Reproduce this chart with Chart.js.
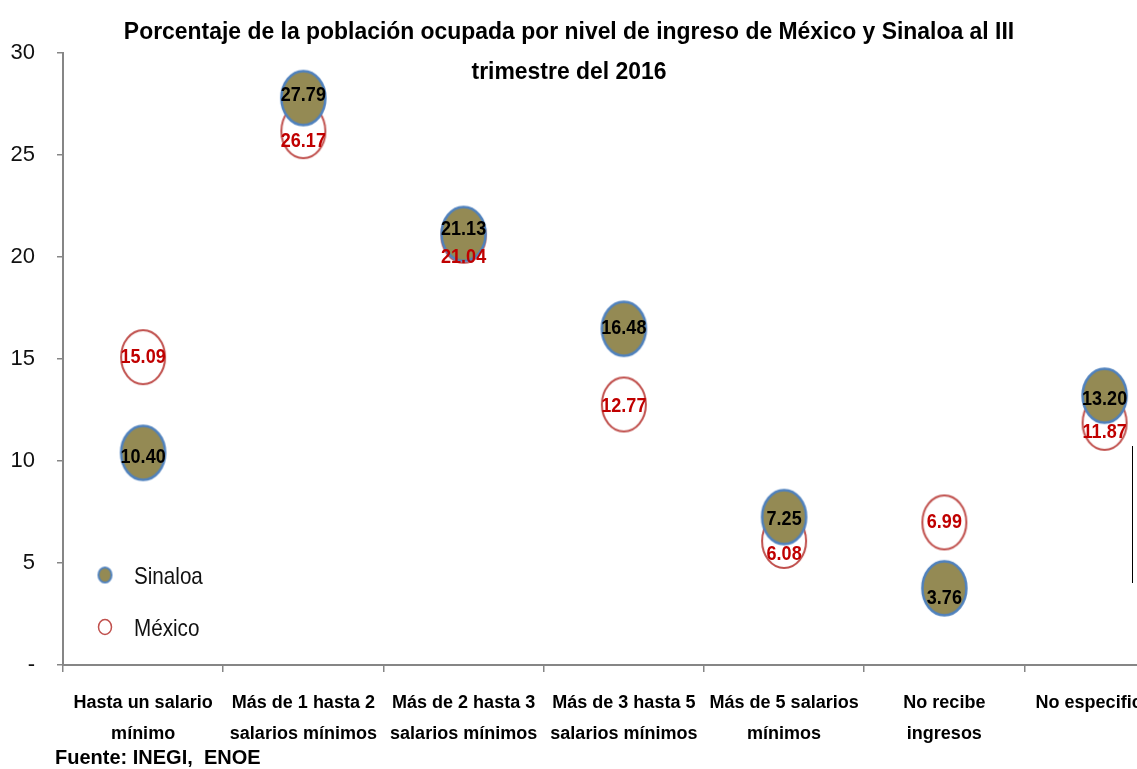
<!DOCTYPE html>
<html lang="es">
<head>
<meta charset="UTF-8">
<title>Población ocupada por nivel de ingreso</title>
<script src="https://cdn.jsdelivr.net/npm/chart.js"></script>
<style>
    body { margin: 0; background: #fff; }
    .wrap { position: relative; width: 1137px; height: 769px; overflow: hidden; }
    #grafica { position: absolute; left: 0; top: 0; }
    .raya { position: absolute; left: 1132px; top: 446px; width: 0; height: 137px; border-left: 1.5px solid #000; }
</style>
</head>
<body>
<div class="wrap">
    <canvas id="grafica" width="1190" height="769"></canvas>
    <div class="raya"></div>
</div>

<script>
// datos
const categorias = [
    ['Hasta un salario', 'mínimo'],
    ['Más de 1 hasta 2', 'salarios mínimos'],
    ['Más de 2 hasta 3', 'salarios mínimos'],
    ['Más de 3 hasta 5', 'salarios mínimos'],
    ['Más de 5 salarios', 'mínimos'],
    ['No recibe', 'ingresos'],
    ['No especificado']
];
const sinaloa = [10.40, 27.79, 21.13, 16.48, 7.25, 3.76, 13.20];
const mexico = [15.09, 26.17, 21.04, 12.77, 6.08, 6.99, 11.87];
const yTicks = [0, 5, 10, 15, 20, 25, 30];

const titulo = ['Porcentaje de la población ocupada por nivel de ingreso de México y Sinaloa al III', 'trimestre del 2016'];
const fuente = 'Fuente: INEGI,  ENOE';

// ajuste vertical de las etiquetas (px), como en el original
const despSinaloa = [5, -3, -4, 0, 2, 10, 4];
const despMexico = [0, 10, 22, 2, 14, 0, 10];

const SANS = '"Liberation Sans", Arial, sans-serif';

function elipse(w, h, relleno, borde, grosor) {
    const c = document.createElement('canvas');
    c.width = Math.ceil(w + grosor * 2 + 2);
    c.height = Math.ceil(h + grosor * 2 + 2);
    const g = c.getContext('2d');
    g.beginPath();
    g.ellipse(c.width / 2, c.height / 2, w / 2, h / 2, 0, 0, Math.PI * 2);
    if (relleno) { g.fillStyle = relleno; g.fill(); }
    g.lineWidth = grosor;
    g.strokeStyle = borde;
    g.stroke();
    return c;
}

// texto comprimido a lo ancho (la fuente original es angosta)
function textoAngosto(ctx, txt, x, y, escala) {
    ctx.save();
    ctx.translate(x, y);
    ctx.scale(escala, 1);
    ctx.fillText(txt, 0, 0);
    ctx.restore();
}

const puntoSinaloa = elipse(44, 54, '#948A54', '#4F81BD', 2.5);
const puntoMexico = elipse(44, 54, '#ffffff', '#C0504D', 2);
const leySinaloa = elipse(13, 15, '#948A54', '#4F81BD', 2);
const leyMexico = elipse(13, 15, '#ffffff', '#C0504D', 1.5);

const etiquetas = {
    id: 'etiquetas',
    afterDatasetsDraw(chart) {
        const ctx = chart.ctx;
        ctx.save();
        ctx.font = 'bold 20px ' + SANS;
        ctx.textAlign = 'center';
        ctx.textBaseline = 'middle';
        const conf = [[1, '#C00000', despMexico], [0, '#000000', despSinaloa]];
        conf.forEach(([i, color, desp]) => {
            const meta = chart.getDatasetMeta(i);
            ctx.fillStyle = color;
            meta.data.forEach((p, j) => {
                const v = chart.data.datasets[i].data[j];
                textoAngosto(ctx, v.toFixed(2), p.x, p.y + desp[j], 0.9);
            });
        });
        ctx.restore();
    }
};

const extras = {
    id: 'extras',
    afterDraw(chart) {
        const ctx = chart.ctx;
        ctx.save();
        // titulo
        ctx.fillStyle = '#000';
        ctx.textAlign = 'center';
        ctx.textBaseline = 'alphabetic';
        ctx.font = 'bold 24px ' + SANS;
        textoAngosto(ctx, titulo[0], 569, 39, 0.955);
        textoAngosto(ctx, titulo[1], 569, 79, 0.955);
        // fuente
        ctx.textAlign = 'left';
        ctx.font = 'bold 20px ' + SANS;
        ctx.fillText(fuente, 55, 764);
        // leyenda
        const items = [[leySinaloa, chart.data.datasets[0].label, 575], [leyMexico, chart.data.datasets[1].label, 627]];
        ctx.font = '24px ' + SANS;
        ctx.textBaseline = 'middle';
        items.forEach(([img, txt, y]) => {
            ctx.drawImage(img, 105 - img.width / 2, y - img.height / 2);
            ctx.fillStyle = '#111';
            textoAngosto(ctx, txt, 134, y + 2, 0.86);
        });
        ctx.restore();
    }
};

new Chart(document.getElementById('grafica'), {
    type: 'line',
    data: {
        labels: categorias,
        datasets: [
            {
                label: 'Sinaloa',
                data: sinaloa,
                showLine: false,
                pointStyle: puntoSinaloa,
                clip: false
            },
            {
                label: 'México',
                data: mexico,
                showLine: false,
                pointStyle: puntoMexico,
                clip: false
            }
        ]
    },
    options: {
        responsive: false,
        animation: false,
        events: [],
        layout: { padding: { top: 53, right: 4, bottom: 0, left: 0 } },
        plugins: {
            legend: { display: false },
            title: { display: false },
            tooltip: { enabled: false }
        },
        scales: {
            x: {
                offset: true,
                afterFit(s) { s.height = 104; },
                border: { color: '#868686', width: 2 },
                grid: { offset: true, drawOnChartArea: false, tickLength: 7, color: '#868686', lineWidth: 1.5 },
                ticks: {
                    autoSkip: false,
                    maxRotation: 0,
                    minRotation: 0,
                    padding: 16,
                    color: '#000',
                    font: { family: SANS, size: 18, weight: 'bold', lineHeight: 1.72 }
                }
            },
            y: {
                min: 0,
                max: 30,
                afterFit(s) { s.width = 63; },
                afterBuildTicks(s) { s.ticks = yTicks.map(v => ({ value: v })); },
                border: { color: '#868686', width: 2 },
                grid: { drawOnChartArea: false, tickLength: 6, color: '#868686', lineWidth: 1.5 },
                ticks: {
                    padding: 22,
                    color: '#111',
                    font: { family: SANS, size: 22 },
                    callback: v => v === 0 ? '-' : v
                }
            }
        }
    },
    plugins: [etiquetas, extras]
});
</script>
</body>
</html>
